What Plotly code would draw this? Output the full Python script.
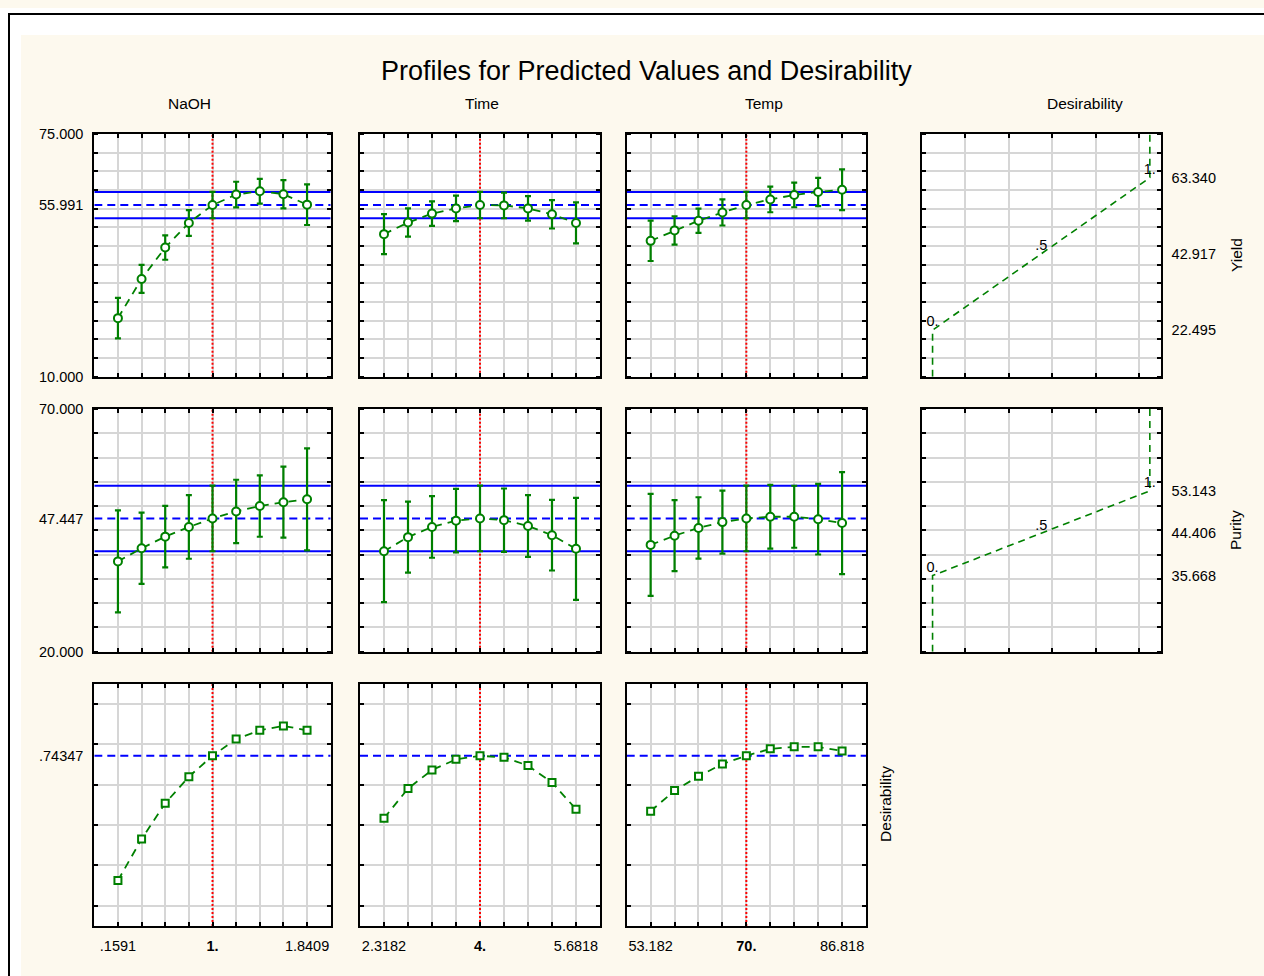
import plotly.graph_objects as go

W, H = 1264, 976

# ---- factor settings (central composite design levels) ----
factor_names = ["NaOH", "Time", "Temp"]
naoh_levels = [0.1591, 0.3693, 0.5795, 0.7898, 1.0, 1.2102, 1.4205, 1.6307, 1.8409]
time_levels = [2.3182, 2.7386, 3.1591, 3.5795, 4.0, 4.4205, 4.8409, 5.2614, 5.6818]
temp_levels = [53.182, 57.386, 61.591, 65.795, 70.0, 74.205, 78.409, 82.614, 86.818]
current_levels = [1.0, 4.0, 70.0]
x_tick_text = [[".1591", "<b>1.</b>", "1.8409"],
               ["2.3182", "<b>4.</b>", "5.6818"],
               ["53.182", "<b>70.</b>", "86.818"]]

# ---- predicted Yield with confidence half-widths ----
yield_naoh = [25.7, 36.2, 44.6, 51.2, 55.991, 58.8, 59.7, 58.9, 56.1]
yield_time = [48.2, 51.3, 53.7, 55.1, 55.991, 55.9, 55.1, 53.5, 51.2]
yield_temp = [46.4, 49.2, 51.8, 54.0, 55.991, 57.5, 58.7, 59.5, 60.1]
yield_naoh_ci = [5.45, 3.75, 3.26, 3.44, 3.53, 3.44, 3.30, 3.79, 5.45]
yield_time_ci = [5.36, 3.79, 3.30, 3.44, 3.53, 3.44, 3.30, 3.79, 5.49]
yield_temp_ci = [5.40, 3.79, 3.26, 3.49, 3.53, 3.44, 3.30, 3.79, 5.45]
yield_current = 55.991
yield_current_ci = 3.53

# ---- predicted Purity with confidence half-widths ----
purity_naoh = [38.6, 41.3, 43.7, 45.7, 47.447, 48.9, 50.0, 50.8, 51.4]
purity_time = [40.7, 43.6, 45.7, 47.0, 47.447, 47.1, 45.9, 44.0, 41.2]
purity_temp = [42.0, 43.9, 45.5, 46.7, 47.447, 47.8, 47.8, 47.3, 46.5]
purity_naoh_ci = [10.51, 7.35, 6.35, 6.56, 6.76, 6.52, 6.32, 7.31, 10.51]
purity_time_ci = [10.51, 7.31, 6.35, 6.56, 6.76, 6.52, 6.35, 7.28, 10.51]
purity_temp_ci = [10.51, 7.31, 6.32, 6.49, 6.76, 6.56, 6.39, 7.28, 10.51]
purity_current = 47.447
purity_current_ci = 6.76

# ---- overall desirability ----
desir_naoh = [0.125, 0.331, 0.508, 0.640, 0.74347, 0.827, 0.870, 0.892, 0.870]
desir_time = [0.434, 0.581, 0.673, 0.726, 0.74347, 0.736, 0.695, 0.611, 0.479]
desir_temp = [0.469, 0.571, 0.642, 0.703, 0.74347, 0.778, 0.788, 0.788, 0.768]
desir_current = 0.74347

# ---- desirability function specs (response value at d = 0, .5, 1) ----
desir_marks = [0.0, 0.5, 1.0]
desir_mark_text = ["0.", ".5", "1."]
yield_spec = [22.495, 42.917, 63.340]
purity_spec = [35.668, 44.406, 53.143]

yield_range = [10.0, 75.0]
purity_range = [20.0, 70.0]
desir_range = [-0.1, 1.1]

# ---- styling ----
FONT = "Liberation Sans, Arial, sans-serif"
GREEN = "#008000"
BLUE = "#0000ff"
RED = "#ff0000"
GRID = "#d6d6d6"
CREAM = "#fdf9ee"
TICKFONT = dict(family=FONT, size=14.5, color="black")

# the page body adds an 8px band above and below the figure; vertical
# placements are given in screen pixels and converted to figure pixels
PAGE_PAD = 8.0
PAGE_H = H + 2 * PAGE_PAD


def fig_y(t):
    return t * PAGE_H / H - PAGE_PAD


def paper_y(t):
    return 1 - fig_y(t) / H


cols = [(94.3, 330.7), (360.0, 600.0), (626.7, 866.0), (921.7, 1160.7)]
rows = [(134.0, 376.7), (409.0, 651.7), (684.0, 926.0)]


def dom_x(c):
    a, b = cols[c]
    return [a / W, b / W]


def dom_y(r):
    a, b = rows[r]
    return [paper_y(b), paper_y(a)]


def ax_id(n):
    return "" if n == 1 else str(n)


def base_axis():
    return dict(showline=True, linecolor="black", linewidth=2, mirror="ticks",
                ticks="inside", ticklen=4, tickwidth=1.5, tickcolor="black",
                zeroline=False, showgrid=True, gridcolor=GRID, gridwidth=1.5,
                tickfont=TICKFONT, fixedrange=True)


def line_trace(xs, ys, xref, yref, color, dash):
    return go.Scatter(x=xs, y=ys, xaxis=xref, yaxis=yref, mode="lines",
                      line=dict(color=color, width=2, dash=dash),
                      showlegend=False, hoverinfo="skip")


fig = go.Figure()
layout = {}
annotations = []

levels_all = [naoh_levels, time_levels, temp_levels]
row_data = [
    dict(vals=[yield_naoh, yield_time, yield_temp],
         ci=[yield_naoh_ci, yield_time_ci, yield_temp_ci],
         cur=yield_current, cur_ci=yield_current_ci, rng=yield_range, step=5.0,
         spec=yield_spec, name="Yield"),
    dict(vals=[purity_naoh, purity_time, purity_temp],
         ci=[purity_naoh_ci, purity_time_ci, purity_temp_ci],
         cur=purity_current, cur_ci=purity_current_ci, rng=purity_range, step=5.0,
         spec=purity_spec, name="Purity"),
    dict(vals=[desir_naoh, desir_time, desir_temp], ci=None,
         cur=desir_current, cur_ci=None, rng=desir_range, step=0.2,
         spec=None, name="Desirability"),
]

n = 0
for r, rd in enumerate(row_data):
    for c in range(3):
        n += 1
        k = ax_id(n)
        lv = levels_all[c]
        step = lv[1] - lv[0]
        xr = [lv[0] - step, lv[-1] + step]
        xa = base_axis()
        xa.update(domain=dom_x(c), anchor="y" + k, range=xr,
                  tickmode="array", tickvals=lv)
        if r == 2:
            tt = [""] * len(lv)
            tt[0], tt[4], tt[-1] = x_tick_text[c]
            xa.update(ticktext=tt, ticklabelstandoff=6)
        else:
            xa.update(showticklabels=False)
        ya = base_axis()
        if c == 0:
            yv = [rd["rng"][0], rd["cur"], rd["rng"][1]] if r < 2 else [rd["cur"]]
            yt = [("%.3f" % v) if r < 2 else ".74347" for v in yv]
        else:
            yv, yt = [], []
        ya.update(domain=dom_y(r), anchor="x" + k, range=rd["rng"], tickmode="array",
                  tickvals=yv, ticktext=yt, ticks="", showgrid=False, ticklabelstandoff=6,
                  minor=dict(tickmode="linear", tick0=0.0 if r == 2 else rd["rng"][0],
                             dtick=rd["step"], showgrid=True, gridcolor=GRID, gridwidth=1.5,
                             ticks="inside", ticklen=4, tickwidth=1.5, tickcolor="black"))
        layout["xaxis" + k] = xa
        layout["yaxis" + k] = ya

        xref, yref = "x" + k, "y" + k
        # current prediction and its confidence band
        fig.add_trace(line_trace(xr, [rd["cur"], rd["cur"]], xref, yref, BLUE, "8px,5px"))
        if rd["cur_ci"] is not None:
            for yb in (rd["cur"] + rd["cur_ci"], rd["cur"] - rd["cur_ci"]):
                fig.add_trace(line_trace(xr, [yb, yb], xref, yref, BLUE, "solid"))
        # current factor level
        fig.add_trace(line_trace([current_levels[c]] * 2, rd["rng"], xref, yref, RED, "2px,2px"))

        if r < 2:
            marker = dict(symbol="circle", size=8, color="white", line=dict(color=GREEN, width=2))
            err = dict(type="data", array=rd["ci"][c], color=GREEN, thickness=2.2, width=3)
        else:
            marker = dict(symbol="square", size=7, color="white", line=dict(color=GREEN, width=2))
            err = None
        fig.add_trace(go.Scatter(x=lv, y=rd["vals"][c], xaxis=xref, yaxis=yref,
                                 mode="lines+markers",
                                 line=dict(color=GREEN, width=1.8, dash="8px,6px"),
                                 marker=marker, error_y=err, showlegend=False,
                                 hoverinfo="skip"))

    if rd["spec"] is not None:
        # desirability function panel for this response
        n += 1
        k = ax_id(n)
        xa = base_axis()
        xa.update(domain=dom_x(3), anchor="y" + k, range=[-0.05, 1.05], tickmode="linear",
                  tick0=0.15, dtick=0.2, showticklabels=False)
        ya = base_axis()
        ya.update(domain=dom_y(r), anchor="x" + k, range=rd["rng"], side="right",
                  tickmode="array", tickvals=rd["spec"],
                  ticktext=["%.3f" % v for v in rd["spec"]], ticks="", showgrid=False,
                  ticklabelstandoff=6,
                  minor=dict(tickmode="linear", tick0=rd["rng"][0], dtick=rd["step"],
                             showgrid=True, gridcolor=GRID, gridwidth=1.5, ticks="inside",
                             ticklen=4, tickwidth=1.5, tickcolor="black"))
        layout["xaxis" + k] = xa
        layout["yaxis" + k] = ya
        sp = rd["spec"]
        fig.add_trace(go.Scatter(
            x=[desir_marks[0]] + desir_marks + [desir_marks[-1]],
            y=[rd["rng"][0]] + sp + [rd["rng"][1]],
            xaxis="x" + k, yaxis="y" + k, mode="lines",
            line=dict(color=GREEN, width=1.6, dash="7px,5px"),
            showlegend=False, hoverinfo="skip"))
        fig.add_trace(go.Scatter(
            x=desir_marks, y=sp, xaxis="x" + k, yaxis="y" + k, mode="text",
            text=desir_mark_text, textposition="top center",
            textfont=dict(family=FONT, size=14.5, color="black"),
            showlegend=False, hoverinfo="skip"))


# ---- page margin strips and outer frame, as plain boxes ----
def box(x0, y0, x1, y1, color):
    top = max(fig_y(y0), 0.0)
    bot = min(fig_y(y1), H)
    return dict(xref="paper", yref="paper", x=x0 / W, y=1 - top / H, xanchor="left",
                yanchor="top", text=" ", showarrow=False, width=x1 - x0,
                height=max(bot - top, 1.0), bgcolor=color, borderpad=0, borderwidth=0,
                font=dict(size=1))


annotations += [
    box(0, 0, W, 34, "white"),
    box(0, 0, 21, H, "white"),
    box(8, 12.7, W, 14.7, "black"),
    box(8, 12.7, 10, H, "black"),
]


# ---- titles ----
def txt(x, y, s, size, angle=0):
    return dict(xref="paper", yref="paper", x=x / W, y=paper_y(y), text=s, showarrow=False,
                xanchor="center", yanchor="middle", textangle=angle,
                font=dict(family=FONT, size=size, color="black"))


annotations += [
    txt(647, 71, "Profiles for Predicted Values and Desirability", 27),
    txt(189, 103, factor_names[0], 15.5),
    txt(482, 103, factor_names[1], 15.5),
    txt(764, 103, factor_names[2], 15.5),
    txt(1085, 103, "Desirability", 15.5),
    txt(1236, 255, "Yield", 15.5, -90),
    txt(1236, 530, "Purity", 15.5, -90),
    txt(886, 804, "Desirability", 15.5, -90),
]

fig.update_layout(width=W, height=H, margin=dict(l=0, r=0, t=0, b=0, pad=0),
                  paper_bgcolor=CREAM, plot_bgcolor="white",
                  annotations=annotations, **layout)

fig.write_html("out.html", include_plotlyjs=True, config={"displayModeBar": False})
